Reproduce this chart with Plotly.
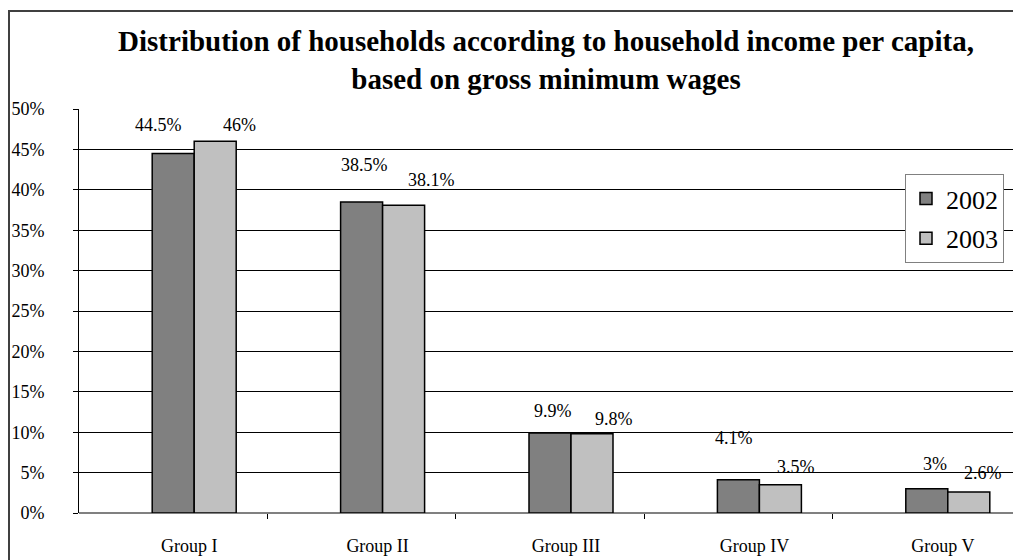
import plotly.graph_objects as go

# ---- data ----
categories = ["Group I", "Group II", "Group III", "Group IV", "Group V"]
values_2002 = [44.5, 38.5, 9.9, 4.1, 3.0]
values_2003 = [46.0, 38.1, 9.8, 3.5, 2.6]
labels_2002 = ["44.5%", "38.5%", "9.9%", "4.1%", "3%"]
labels_2003 = ["46%", "38.1%", "9.8%", "3.5%", "2.6%"]
series_names = ["2002", "2003"]
y_ticks = [0, 5, 10, 15, 20, 25, 30, 35, 40, 45, 50]

# ---- layout constants (page pixels; body margin removed below) ----
W, H = 1013, 560
L, T, B = 79, 109, H - 513
band_px = 188.4
plot_w = W - L
plot_h = H - T - B
x_max = -0.5 + plot_w / band_px
bar_w = 42 / band_px

# manual label placement (pixel shifts relative to bar top centre)
shift_2002 = [(-15, 28), (3, 37), (3, 22), (-4, 42), (8, 25)]
shift_2003 = [(24, 16), (28, 25), (22, 15), (16, 18), (14, 19)]

FONT = "Liberation Serif, Times New Roman, serif"
idx = list(range(len(categories)))

fig = go.Figure()
fig.add_trace(go.Bar(
    x=idx, y=values_2002, name=series_names[0], width=bar_w, offset=-bar_w / 2,
    marker=dict(color="#808080", line=dict(color="black", width=1.5)),
    legendgroup="a",
))
fig.add_trace(go.Bar(
    x=idx, y=values_2003, name=series_names[1], width=bar_w, offset=bar_w / 2,
    marker=dict(color="#c0c0c0", line=dict(color="black", width=1.5)),
    legendgroup="b",
))

annotations = []
for i in idx:
    for xoff, v, lab, (dx, dy) in [
        (0, values_2002[i], labels_2002[i], shift_2002[i]),
        (bar_w, values_2003[i], labels_2003[i], shift_2003[i]),
    ]:
        annotations.append(dict(
            x=i + xoff, y=v, xref="x", yref="y", text=lab, showarrow=False,
            xshift=dx, yshift=dy, font=dict(family=FONT, size=18, color="black"),
            xanchor="center", yanchor="middle",
        ))

# page pixel -> paper coordinates
px2x = lambda p: (p - L) / plot_w
py2y = lambda p: (H - B - p) / plot_h
shapes = [dict(type="rect", xref="paper", yref="paper",
               x0=px2x(9), x1=px2x(1030), y0=py2y(580), y1=py2y(11),
               line=dict(color="#404040", width=2), layer="below")]

fig.update_layout(
    width=W, height=H,
    margin=dict(l=L, r=0, t=T, b=B, autoexpand=False),
    paper_bgcolor="white", plot_bgcolor="white",
    barmode="overlay",
    font=dict(family=FONT, size=18, color="black"),
    title=dict(
        text="<b>Distribution of households according to household income per capita,<br>based on gross minimum wages</b>",
        x=0.5, xref="paper", xanchor="center",
        y=1 - 51 / H, yref="container", yanchor="middle",
        font=dict(family=FONT, size=29, color="black"),
    ),
    xaxis=dict(
        range=[-0.5, x_max], showgrid=False, zeroline=False,
        showline=False,
        tickmode="array", tickvals=[i + 0.085 for i in idx], ticktext=categories,
        ticks="", ticklabelstandoff=20,
        tickfont=dict(family=FONT, size=18, color="black"),
        minor=dict(tickmode="array", tickvals=[i + 0.5 for i in idx],
                   ticks="outside", ticklen=5, tickcolor="black", showgrid=False),
    ),
    yaxis=dict(
        range=[0, 50], tickmode="array", tickvals=y_ticks,
        ticktext=[f"{t}%" for t in y_ticks],
        showgrid=True, gridcolor="black", gridwidth=1,
        zeroline=True, zerolinecolor="#808080", zerolinewidth=1.5,
        showline=True, linecolor="black", linewidth=1,
        ticks="outside", ticklen=5, tickcolor="black",
        ticklabelstandoff=25,
        tickfont=dict(family=FONT, size=18, color="black"),
    ),
    legend=dict(
        x=px2x(905), y=py2y(174), xanchor="left", yanchor="top",
        bgcolor="white", bordercolor="#808080", borderwidth=1,
        font=dict(family=FONT, size=26, color="black"),
        tracegroupgap=3, itemwidth=30,
    ),
    showlegend=True,
    annotations=annotations,
    shapes=shapes,
)

fig.write_html(
    "out.html",
    config={"displayModeBar": False},
    post_script="document.body.style.margin='0';document.body.style.overflow='hidden';",
)
